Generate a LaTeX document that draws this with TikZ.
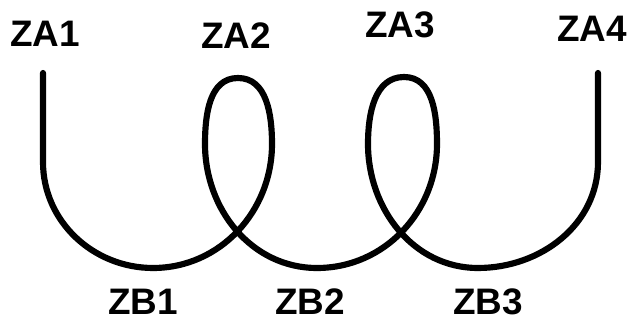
\documentclass[tikz,border=0pt]{standalone}
\usepackage{fontspec}
\setmainfont{Liberation Sans}
\usetikzlibrary{positioning}

\begin{document}
\begin{tikzpicture}[
		x=0.02cm, y=0.02cm,
		every node/.style={font=\fontsize{21}{25}\selectfont\bfseries},
		tag/.style={
			anchor=base,
			inner sep=0pt
		},
		wire/.style={
			line width=3.5pt,
			line cap=round
		}
		]
		
		% Frame
		\useasboundingbox (0,0) rectangle (630,324);
		
		% Top labels
		\node[tag] (za1) at (45,277) {ZA1};
		\node[tag] (za2) at (236,275) {ZA2};
		\node[tag] (za3) at (400,286) {ZA3};
		\node[tag] (za4) at (592,282) {ZA4};
		
		% Bottom labels
		\node[tag] (zb1) at (143,9) {ZB1};
		\node[tag] (zb2) at (310,9) {ZB2};
		\node[tag] (zb3) at (488,9) {ZB3};
		
		% Ends of the wire
		\coordinate (start) at (43,251);
		\coordinate (end) at (598,251);
		
		% Wire with two loops
		\draw[wire] (start) -- (43,162)
		to[out=-90,in=180] (153,56)
		to[out=0,in=-90] (272,180)
		to[out=90,in=0] (238,246)
		to[out=180,in=90] (205,180)
		to[out=-90,in=180] (317,56)
		to[out=0,in=-90] (437,180)
		to[out=90,in=0] (404,247)
		to[out=180,in=90] (368,180)
		to[out=-90,in=180] (478,56)
		to[out=0,in=-90] (598,162)
		-- (end);
	\end{tikzpicture}
\end{document}
